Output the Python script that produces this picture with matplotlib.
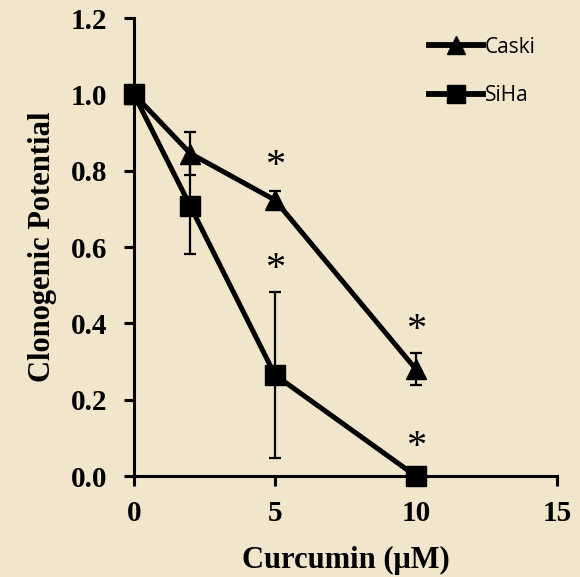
import matplotlib
matplotlib.use("Agg")
import matplotlib.pyplot as plt
from matplotlib.lines import Line2D

dose = [0, 2, 5, 10]
caski = [1.0, 0.845, 0.723, 0.280]
caski_err = [0.0, 0.057, 0.024, 0.042]
siha = [1.0, 0.707, 0.265, 0.0]
siha_err = [0.0, 0.125, 0.218, 0.0]
star_x = [5, 5, 10, 10]
star_y = [0.81, 0.54, 0.38, 0.075]
xticks = [0, 5, 10, 15]
yticks = [0.0, 0.2, 0.4, 0.6, 0.8, 1.0, 1.2]
series_names = ["Caski", "SiHa"]

bg = "#F1E5CC"
fig = plt.figure(figsize=(5.8, 5.77), dpi=100, facecolor=bg)
ax = fig.add_axes([0.231, 0.175, 0.729, 0.7938])
ax.set_facecolor(bg)

serif = "Liberation Serif"
ax.errorbar(dose, caski, yerr=caski_err, color="black", lw=3.6, marker="^",
            markersize=14, elinewidth=1.6, capsize=4.5, capthick=1.6, zorder=3, clip_on=False)
ax.errorbar(dose, siha, yerr=siha_err, color="black", lw=3.6, marker="s",
            markersize=14, elinewidth=1.6, capsize=4.5, capthick=1.6, zorder=3, clip_on=False)

for sx, sy in zip(star_x, star_y):
    ax.text(sx, sy, "*", ha="center", va="center", fontsize=29, family=serif)

ax.set_xlim(0, 15)
ax.set_ylim(0, 1.2)
ax.set_xticks(xticks)
ax.set_yticks(yticks)
ax.set_xticklabels([str(t) for t in xticks], family=serif, fontweight="bold", fontsize=21)
ax.set_yticklabels([f"{t:.1f}" for t in yticks], family=serif, fontweight="bold", fontsize=21)
ax.tick_params(axis="both", direction="out", length=7, width=2.2)
ax.tick_params(axis="y", pad=12)
ax.tick_params(axis="x", pad=10)
for s in ["top", "right"]:
    ax.spines[s].set_visible(False)
for s in ["left", "bottom"]:
    ax.spines[s].set_linewidth(2.2)
for art in ax.get_children():
    try:
        art.set_clip_on(False)
    except Exception:
        pass

ax.set_xlabel("Curcumin (\u03bcM)", family=serif, fontweight="bold", fontsize=22, labelpad=14)
ax.set_ylabel("Clonogenic Potential", family=serif, fontweight="bold", fontsize=22, labelpad=10)

handles = [Line2D([], [], color="black", lw=4.2, marker="^", markersize=13),
           Line2D([], [], color="black", lw=4.2, marker="s", markersize=13)]
ax.legend(handles, series_names, loc="upper right", bbox_to_anchor=(0.995, 1.0), frameon=False,
          prop={"family": "Open Sans", "size": 15}, handlelength=2.6,
          handletextpad=0.1, labelspacing=1.3)

fig.savefig("out.png", dpi=100, facecolor=bg)
